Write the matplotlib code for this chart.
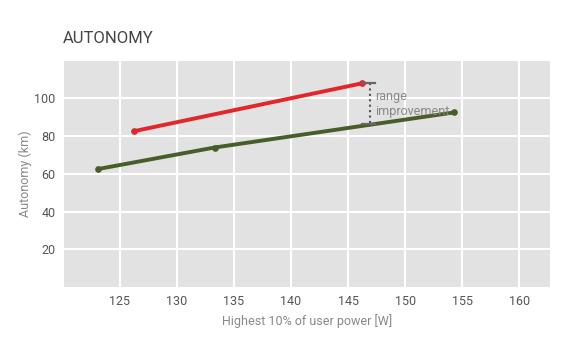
import matplotlib
matplotlib.use('Agg')
import matplotlib.pyplot as plt

# data
red_x = [126.2, 146.2]
red_y = [82.6, 108.0]
green_x = [123.1, 133.3, 154.3]
green_y = [62.6, 74.0, 92.6]

bracket_x = 146.9
bracket_top = 108.0
bracket_bottom = 86.3

x_ticks = [125, 130, 135, 140, 145, 150, 155, 160]
y_ticks = [20, 40, 60, 80, 100]

plt.rcParams['font.family'] = ['Roboto', 'DejaVu Sans']

fig = plt.figure(figsize=(5.76, 3.51), dpi=100)
ax = fig.add_axes([0.111, 0.182, 0.844, 0.645])
ax.set_facecolor('#e2e2e2')

ax.set_xlim(120.1, 162.7)
ax.set_ylim(0, 120)
ax.set_xticks(x_ticks)
ax.set_yticks(y_ticks)
ax.grid(True, color='white', linewidth=1.5)
ax.set_axisbelow(True)
for s in ax.spines.values():
    s.set_visible(False)
ax.tick_params(length=0, labelsize=9, colors='#555555', pad=6)

# series
ax.plot(green_x, green_y, color='#475e2b', linewidth=2.8, marker='o', markersize=3.8,
        solid_capstyle='round')
ax.plot(red_x, red_y, color='#e3262a', linewidth=2.8, marker='o', markersize=3.8,
        solid_capstyle='round')

# range improvement bracket
ax.plot([bracket_x, bracket_x], [bracket_top, bracket_bottom], color='#555555',
        linewidth=1.5, linestyle=(0, (1, 1.6)))
ax.plot([bracket_x - 0.7, bracket_x + 0.5], [bracket_top, bracket_top], color='#666666', linewidth=1.6)
ax.plot([bracket_x - 0.7, bracket_x + 0.5], [bracket_bottom, bracket_bottom], color='#666666', linewidth=1.6)
ax.text(bracket_x + 0.5, 104.5, 'range\nimprovement', color='#888888', fontsize=9,
        va='top', ha='left', linespacing=1.2)

ax.set_ylabel('Autonomy (km)', color='#888888', fontsize=9, labelpad=1.5)
ax.set_xlabel('Highest 10% of user power [W]', color='#888888', fontsize=9, labelpad=4)

fig.text(0.109, 0.89, 'AUTONOMY', color='#444444', fontsize=12, va='center', ha='left')

fig.savefig('out.png', dpi=100, facecolor='white')
